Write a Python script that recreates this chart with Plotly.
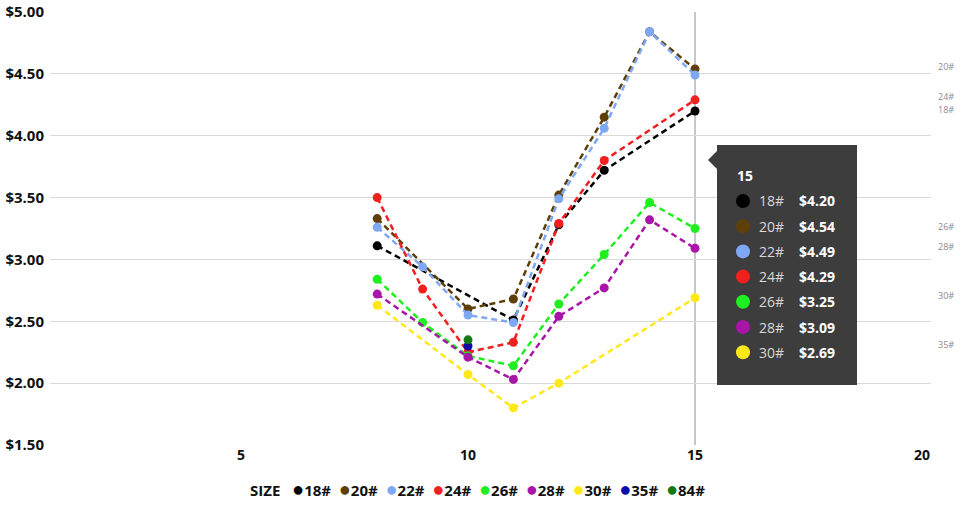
import plotly.graph_objects as go

# ---------------- data ----------------
weeks = [8, 9, 10, 11, 12, 13, 14, 15]
sizes = ["18#", "20#", "22#", "24#", "26#", "28#", "30#", "35#", "84#"]
colors = ["#000000", "#5e3f0a", "#7ea8f4", "#f21f1f", "#1fee1f", "#a815a8", "#ffe81a", "#0c0ca6", "#137a13"]
s18 = [3.11, None, None, 2.51, 3.28, 3.72, None, 4.20]
s20 = [3.33, None, 2.60, 2.68, 3.52, 4.15, 4.84, 4.54]
s22 = [3.26, 2.94, 2.55, 2.49, 3.49, 4.06, 4.84, 4.49]
s24 = [3.50, 2.76, 2.25, 2.33, 3.29, 3.80, None, 4.29]
s26 = [2.84, 2.49, 2.22, 2.14, 2.64, 3.04, 3.46, 3.25]
s28 = [2.72, None, 2.21, 2.03, 2.54, 2.77, 3.32, 3.09]
s30 = [2.63, None, 2.07, 1.80, 2.00, None, None, 2.69]
s35 = [None, None, 2.30, None, None, None, None, None]
s84 = [None, None, 2.35, None, None, None, None, None]
series = [s18, s20, s22, s24, s26, s28, s30, s35, s84]
hover_x = 15
y_ticks = [1.5, 2.0, 2.5, 3.0, 3.5, 4.0, 4.5, 5.0]
x_ticks = [5, 10, 15, 20]

FONT = "Open Sans"
W, H = 962, 505
L, R, T, B = 50, 31, 12, 60
PW, PH = W - L - R, H - T - B


def px(x):
    return (x - L) / PW


def py(y):
    return 1 - (y - T) / PH


fig = go.Figure()
for name, col, vals in zip(sizes, colors, series):
    fig.add_trace(go.Scatter(
        x=weeks, y=vals, name=name, mode="lines+markers", connectgaps=True,
        line=dict(color=col, width=2.5, dash="6px,4px"),
        marker=dict(color=col, size=9),
        showlegend=False,
    ))

annotations = []
shapes = []

# end labels at the right edge (skip overlapping ones, spread close ones)
y0v, y1v = y_ticks[0], y_ticks[-1]
labels = []
for name, vals in zip(sizes, series):
    last = [v for v in vals if v is not None][-1]
    ypx = T + (y1v - last) / (y1v - y0v) * PH - 2
    if any(abs(ypx - lb[2]) < 9 for lb in labels):
        continue
    labels.append([name, last, ypx, ypx])
labels.sort(key=lambda lb: lb[2])
MIN_GAP = 13
for i in range(1, len(labels)):
    gap = labels[i][3] - labels[i - 1][3]
    if gap < MIN_GAP:
        d = (MIN_GAP - gap) / 2
        labels[i - 1][3] -= d
        labels[i][3] += d
for name, last, ypx, ypos in labels:
    annotations.append(dict(x=1, xref="paper", y=py(ypos), yref="paper", text=name, showarrow=False,
                            xanchor="left", yanchor="middle", xshift=5,
                            font=dict(family=FONT, size=9, color="#8a8a8a")))

# hover line
shapes.append(dict(type="line", xref="x", yref="paper", x0=hover_x, x1=hover_x, y0=0, y1=1,
                   line=dict(color="#909090", width=1), layer="below"))

# tooltip box
bx0, bx1, by0, by1 = 717, 857, 145, 385
shapes.append(dict(type="rect", xref="paper", yref="paper", x0=px(bx0), x1=px(bx1), y0=py(by1), y1=py(by0),
                   fillcolor="#3d3d3d", line=dict(width=0)))
shapes.append(dict(type="path", xref="paper", yref="paper",
                   path=f"M {px(bx0)} {py(151)} L {px(708)} {py(160)} L {px(bx0)} {py(169)} Z",
                   fillcolor="#3d3d3d", line=dict(width=0)))
annotations.append(dict(x=px(735), y=py(175), xref="paper", yref="paper", text=f"<b>{hover_x}</b>",
                        showarrow=False, xanchor="left", yanchor="middle",
                        font=dict(family=FONT, size=14, color="#ffffff")))
idx = weeks.index(hover_x)
row = 0
for name, col, vals in zip(sizes, colors, series):
    v = vals[idx]
    if v is None:
        continue
    yc = 201 + row * 25.2
    shapes.append(dict(type="circle", xref="paper", yref="paper",
                       x0=px(736), x1=px(750), y0=py(yc + 7), y1=py(yc - 7),
                       fillcolor=col, line=dict(width=0)))
    annotations.append(dict(x=px(757), y=py(yc), xref="paper", yref="paper", text=name,
                            showarrow=False, xanchor="left", yanchor="middle",
                            font=dict(family=FONT, size=14, color="#d8d8d8")))
    annotations.append(dict(x=px(797), y=py(yc), xref="paper", yref="paper", text=f"<b>${v:.2f}</b>",
                            showarrow=False, xanchor="left", yanchor="middle",
                            font=dict(family=FONT, size=14, color="#ffffff")))
    row += 1

# legend line
parts = ["<b>SIZE</b>&nbsp;&nbsp;&nbsp;"]
for i, (name, col) in enumerate(zip(sizes, colors)):
    sep = "" if i == len(sizes) - 1 else "&nbsp;&nbsp;"
    parts.append(f"<span style='color:{col};font-size:20px'>●</span><b>{name}</b>{sep}")
annotations.append(dict(x=px(477), xref="paper", y=py(488), yref="paper",
                        text="".join(parts), showarrow=False,
                        xanchor="center", yanchor="middle",
                        font=dict(family=FONT, size=15, color="#111111")))

fig.update_layout(
    width=W, height=H,
    margin=dict(l=L, r=R, t=T, b=B, autoexpand=False),
    plot_bgcolor="#ffffff", paper_bgcolor="#ffffff",
    font=dict(family=FONT, size=13, color="#111111"),
    showlegend=False,
    hovermode=False,
    annotations=annotations,
    shapes=shapes,
    xaxis=dict(range=[0.793, 20.198], tickvals=x_ticks, showgrid=False, zeroline=False,
               showline=False, ticks="", automargin=False,
               tickfont=dict(family=FONT, size=14, color="#111111", weight="bold")),
    yaxis=dict(range=[y_ticks[0], y_ticks[-1]], tickvals=y_ticks, tickformat="$.2f",
               showgrid=True, gridcolor="#d9d9d9", gridwidth=1, zeroline=False, showline=False,
               ticks="", ticklabelstandoff=5, automargin=False,
               tickfont=dict(family=FONT, size=15, color="#111111", weight="bold")),
)

fig.write_html("out.html", config={"displayModeBar": False},
               post_script="document.body.style.margin='0';document.body.style.overflow='hidden';")
